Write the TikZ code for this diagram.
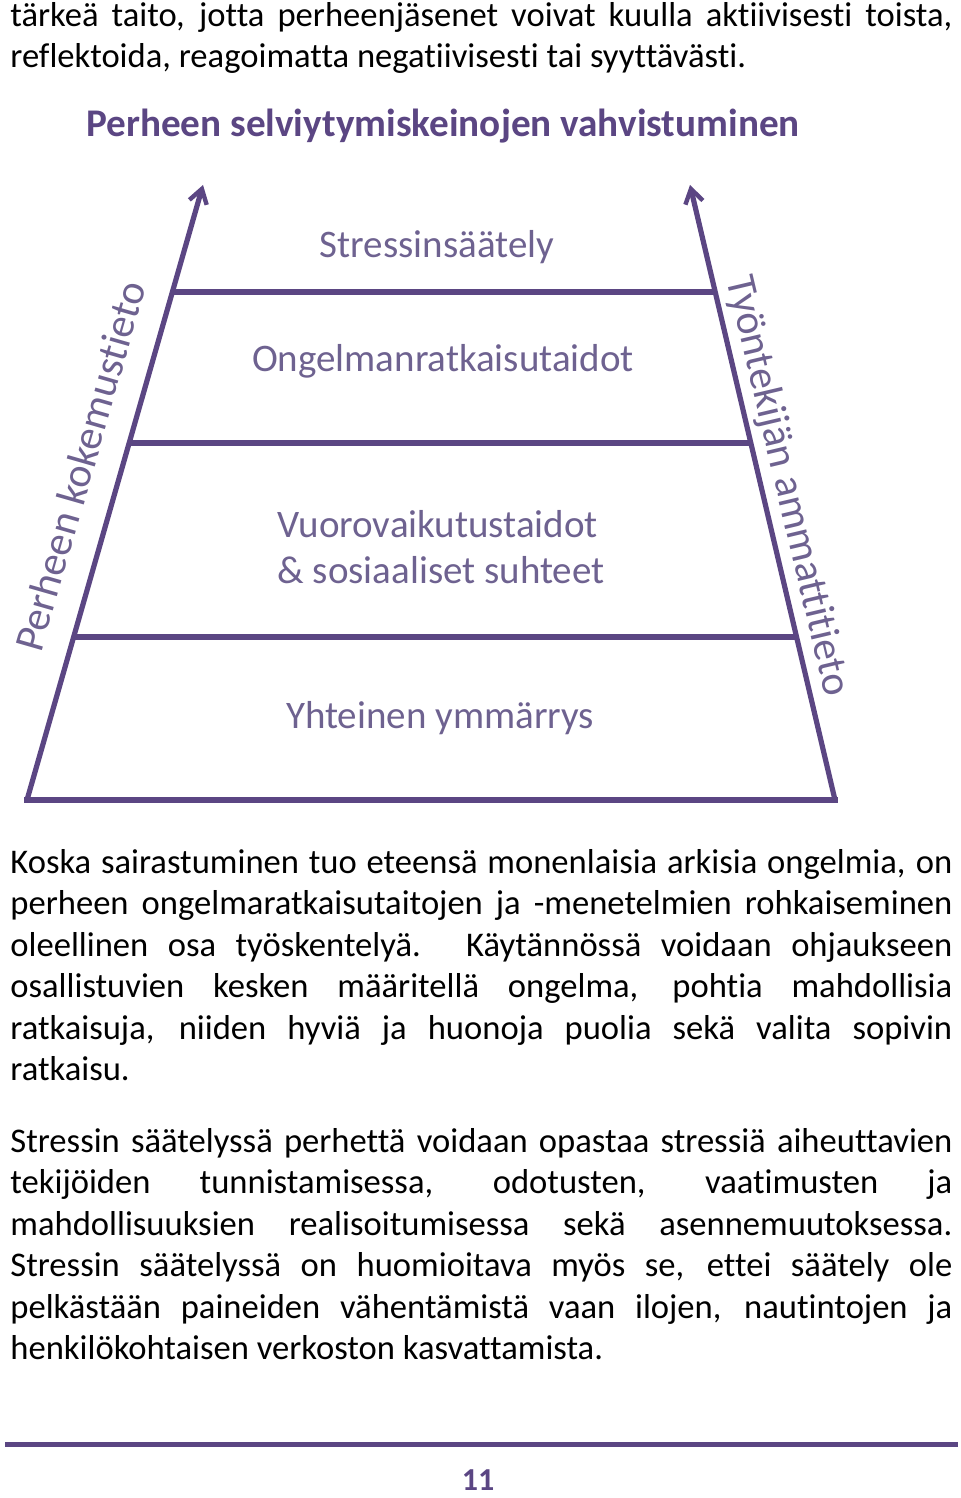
\documentclass[tikz,border=0pt]{standalone}
\usepackage{fontspec}
\setmainfont{Carlito}[Ligatures=NoCommon]
\usetikzlibrary{arrows.meta}
\definecolor{pur}{HTML}{5B4683}
\definecolor{lab}{HTML}{6E6290}
\hyphenpenalty=10000 \exhyphenpenalty=10000
\begin{document}
\begin{tikzpicture}[x=0.5pt,y=-0.5pt,
  body/.style={anchor=north west,inner sep=0pt,text width=471pt,align=justify,font=\fontsize{17.3}{20.75}\selectfont},
  lvl/.style={text=lab,font=\fontsize{19.5}{23}\selectfont,align=left,inner sep=0pt},
  side/.style={line width=2.6pt,draw=pur},
  arr/.style={side,-{Straight Barb[length=7pt,width=9pt,line width=2.2pt]}}]
\useasboundingbox (0,0) rectangle (960,1498);
\node[body] (p0) at (10,2) {tärkeä taito, jotta perheenjäsenet voivat kuulla aktiivisesti toista,\linebreak reflektoida, reagoimatta negatiivisesti tai syyttävästi.};
\node[text=pur,font=\bfseries\fontsize{19.6}{22}\selectfont,inner sep=0pt] (title) at (443,126) {Perheen selviytymiskeinojen vahvistuminen};
% geometry
\coordinate (lb) at (27,800); \coordinate (lt) at (203,185);
\coordinate (rb) at (835,800); \coordinate (rt) at (690,185);
\draw[arr] (lb) -- (lt);
\draw[arr] (rb) -- (rt);
\draw[side,line cap=rect] (lb) -- (rb);
\foreach \yy in {292,443,637}{
  \draw[side] ({27+(800-\yy)/615*176},\yy) -- ({835-(800-\yy)/615*145},\yy);
}
\node[lvl] (l1) at (437,247) {Stressinsäätely};
\node[lvl] (l2) at (443,361) {Ongelmanratkaisutaidot};
\node[lvl] (l3) at (441,547) {Vuorovaikutustaidot\\\& sosiaaliset suhteet};
\node[lvl] (l4) at (440,718) {Yhteinen ymmärrys};
\node[lvl,font=\fontsize{21}{24}\selectfont,rotate=74] (sl) at (80,466) {Perheen kokemustieto};
\node[lvl,font=\fontsize{21}{24}\selectfont,rotate=-76.7] (sr) at (787,486) {Työntekijän ammattitieto};
\node[body] (p1) at (10,849) {Koska sairastuminen tuo eteensä monenlaisia arkisia ongelmia, on\linebreak perheen ongelmaratkaisutaitojen ja -menetelmien rohkaiseminen\linebreak oleellinen osa työskentelyä. Käytännössä voidaan ohjaukseen\linebreak osallistuvien kesken määritellä ongelma, pohtia mahdollisia\linebreak ratkaisuja, niiden hyviä ja huonoja puolia sekä valita sopivin\linebreak ratkaisu.};
\node[body] (p2) at (10,1128) {Stressin säätelyssä perhettä voidaan opastaa stressiä aiheuttavien\linebreak tekijöiden tunnistamisessa, odotusten, vaatimusten ja\linebreak mahdollisuuksien realisoitumisessa sekä asennemuutoksessa.\linebreak Stressin säätelyssä on huomioitava myös se, ettei säätely ole\linebreak pelkästään paineiden vähentämistä vaan ilojen, nautintojen ja\linebreak henkilökohtaisen verkoston kasvattamista.};
\draw[line width=2.5pt,draw=pur] (5,1444) -- (958,1444);
\node[text=pur,font=\bfseries\fontsize{16}{18}\selectfont] (pg) at (478,1480) {11};
\end{tikzpicture}
\end{document}
